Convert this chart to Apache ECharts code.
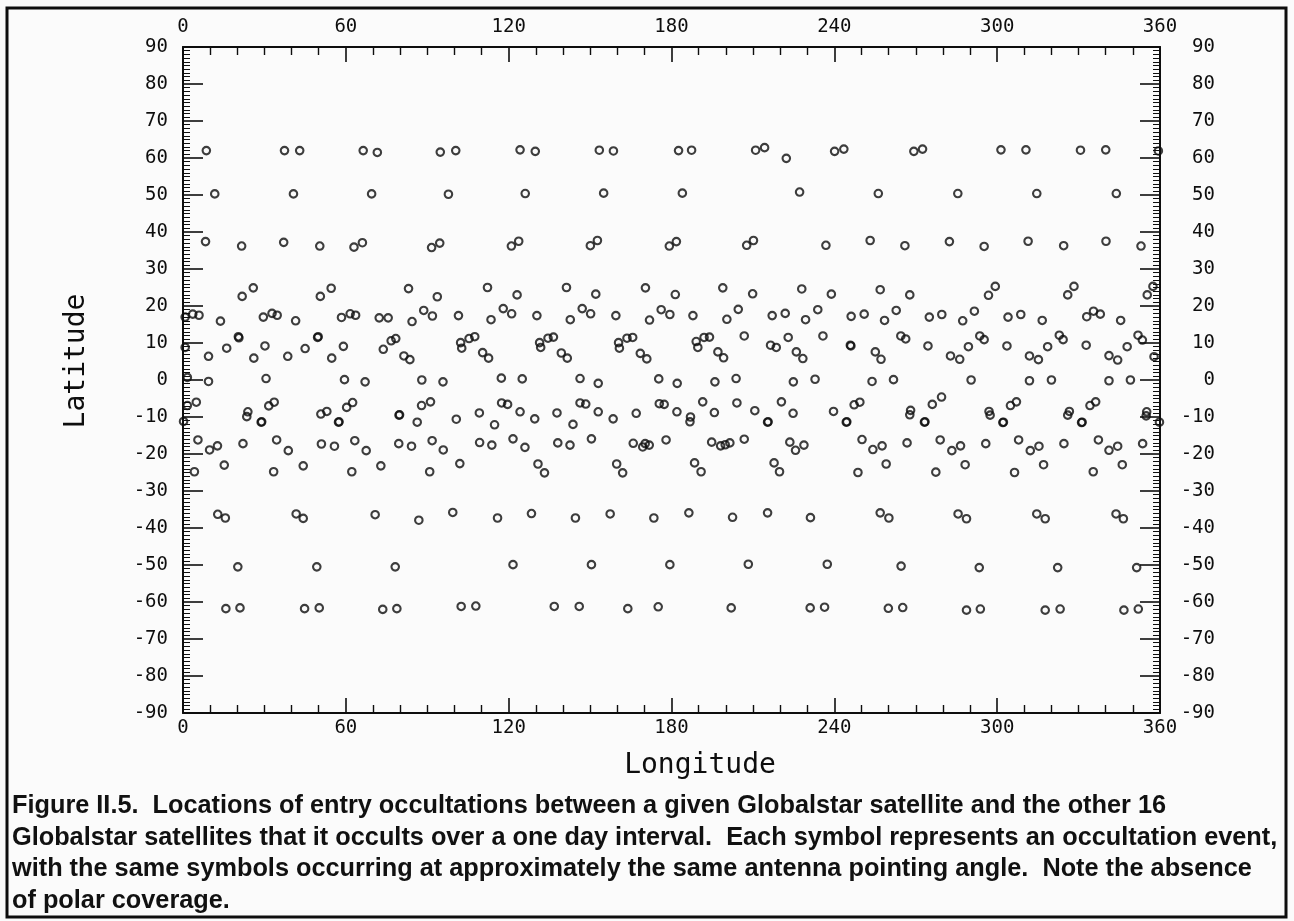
<!DOCTYPE html>
<html>
<head>
<meta charset="utf-8">
<title>Figure II.5</title>
<script src="https://cdn.jsdelivr.net/npm/echarts/dist/echarts.min.js"></script>
<style>
  html, body { margin: 0; padding: 0; background: #fbfbfb; }
  #chart { width: 1294px; height: 921px; }
</style>
</head>
<body>
<div id="chart"></div>
<script>
// occultation events, [longitude, latitude], by longitude quarter
const eventsLon0to90 = [
  [8.6, 62], [37.4, 62], [43, 62], [66.4, 62], [71.6, 61.5],
  [11.7, 50.3], [40.7, 50.3], [69.5, 50.3],
  [8.3, 37.4], [21.6, 36.2], [37.1, 37.2], [50.4, 36.2], [63, 35.9], [66.1, 37.1],
  [21.8, 22.6], [25.9, 24.9], [50.6, 22.6], [54.6, 24.8], [83.1, 24.7],
  [0.8, 17], [3.6, 17.8], [5.9, 17.5], [13.8, 15.9], [29.6, 17], [32.8, 18], [34.7, 17.5],
  [41.5, 16], [58.4, 16.9], [61.6, 17.9], [63.6, 17.5], [72.3, 16.8], [75.6, 16.8],
  [84.4, 15.8], [88.7, 18.8],
  [20.4, 11.7], [20.6, 11.4], [49.6, 11.5], [49.8, 11.7],
  [0.8, 8.8], [9.4, 6.4], [16.1, 8.6], [26.1, 5.9], [30.2, 9.2], [38.6, 6.4], [45, 8.5],
  [54.8, 5.9], [59.1, 9.1], [73.8, 8.3], [76.7, 10.6], [78.4, 11.2], [81.4, 6.5], [83.6, 5.5],
  [1.6, 0.7], [9.4, -0.4], [30.6, 0.4], [59.5, 0.1], [67.1, -0.5], [88, 0],
  [1.6, -6.9], [4.9, -6], [0.2, -11.2], [23.9, -8.6], [23.5, -9.9], [28.8, -11.4], [29, -11.3],
  [31.6, -7], [33.6, -6], [50.8, -9.2], [53, -8.5], [57.3, -11.4], [57.5, -11.3], [60.3, -7.4],
  [62.5, -6.1], [79.6, -9.5], [79.8, -9.4], [86.3, -11.4], [87.9, -6.9],
  [5.5, -16.2], [9.8, -18.9], [12.7, -17.8], [22.1, -17.2], [34.5, -16.2], [38.8, -19.1],
  [51, -17.3], [55.8, -17.9], [63.3, -16.4], [67.5, -19.1], [79.5, -17.2], [84.2, -17.9],
  [4.2, -24.8], [15.2, -23], [33.4, -24.8], [44.3, -23.2], [62.2, -24.8], [72.9, -23.2],
  [12.8, -36.3], [15.6, -37.3], [41.7, -36.2], [44.3, -37.4], [70.8, -36.4], [86.9, -37.9],
  [20.2, -50.5], [49.3, -50.5], [78.2, -50.5],
  [15.8, -61.8], [21, -61.6], [44.8, -61.8], [50.2, -61.6], [73.6, -62], [78.8, -61.8]
]

const eventsLon90to180 = [
  [94.8, 61.6], [100.5, 62], [124.2, 62.2], [129.8, 61.8], [153.4, 62.1], [158.6, 61.9],
  [97.8, 50.2], [126.1, 50.4], [155, 50.5],
  [91.6, 35.8], [94.6, 37], [121, 36.2], [123.7, 37.5], [150.1, 36.3], [152.7, 37.7], [179.2, 36.2],
  [93.7, 22.5], [112.2, 25], [123.1, 23], [141.3, 25], [152.1, 23.2], [170.4, 24.9],
  [91.9, 17.3], [101.5, 17.4], [113.5, 16.3], [118, 19.3], [121.1, 17.9], [130.4, 17.4],
  [142.7, 16.3], [147.1, 19.3], [150.2, 17.9], [159.5, 17.4], [171.9, 16.2], [176.2, 19], [179.4, 17.7],
  [102.3, 10.1], [102.7, 8.6], [105.4, 11.2], [107.5, 11.7], [110.4, 7.4], [112.6, 5.9],
  [131.4, 10.1], [131.8, 8.8], [134.5, 11.3], [136.5, 11.6], [139.4, 7.3], [141.6, 5.9],
  [160.5, 10.1], [160.8, 8.6], [163.6, 11.3], [165.7, 11.5], [168.5, 7.2], [170.9, 5.7],
  [95.8, -0.5], [117.3, 0.5], [125, 0.3], [146.3, 0.4], [153, -0.9], [175.3, 0.3],
  [91.2, -5.9], [100.7, -10.6], [109.2, -8.9], [114.8, -12.1], [117.4, -6.2], [119.6, -6.6],
  [124.2, -8.6], [129.6, -10.5], [137.8, -8.9], [143.7, -12], [146.3, -6.2], [148.4, -6.5],
  [153, -8.6], [158.5, -10.5], [167, -9], [175.5, -6.4], [177.3, -6.6],
  [91.8, -16.4], [95.9, -18.9], [109.3, -16.9], [113.8, -17.6], [121.6, -15.9], [126, -18.2],
  [138.1, -17], [142.6, -17.6], [150.5, -15.9], [165.9, -17.1], [169.4, -18.1], [170.3, -17.2],
  [171.8, -17.6], [178, -16.2],
  [90.9, -24.8], [102, -22.6], [130.8, -22.7], [133.2, -25.1], [159.8, -22.7], [162, -25.1],
  [99.4, -35.8], [115.9, -37.3], [128.4, -36.1], [144.6, -37.3], [157.4, -36.2], [173.5, -37.3],
  [121.6, -49.9], [150.5, -49.9], [179.4, -49.9],
  [102.5, -61.2], [107.9, -61.1], [136.8, -61.2], [146, -61.2], [163.9, -61.8], [175.1, -61.3]
]

const eventsLon180to270 = [
  [182.6, 62], [187.4, 62.1], [211, 62.1], [214.3, 62.8], [222.3, 59.9], [240.1, 61.8],
  [243.5, 62.4], [269.3, 61.8],
  [184, 50.5], [227.2, 50.8], [256.2, 50.4],
  [181.8, 37.4], [207.7, 36.4], [210.2, 37.7], [236.9, 36.4], [253.2, 37.7], [266, 36.3],
  [181.4, 23.1], [198.9, 24.9], [209.9, 23.3], [228, 24.6], [238.9, 23.2], [256.9, 24.4], [267.8, 23],
  [187.9, 17.4], [200.4, 16.4], [204.6, 19.1], [217.1, 17.4], [221.9, 18], [229.4, 16.3],
  [233.9, 19], [246.2, 17.2], [251, 17.8], [258.5, 16.1], [262.8, 18.8],
  [189.1, 10.4], [189.7, 8.8], [192, 11.5], [194, 11.6], [197.1, 7.6], [199.2, 6], [206.8, 11.9],
  [216.5, 9.4], [218.6, 8.8], [223, 11.5], [226, 7.6], [228.4, 5.8], [235.8, 11.9], [245.9, 9.4],
  [246.1, 9.2], [255.1, 7.6], [257.2, 5.6], [264.5, 11.9], [266.3, 11.1],
  [182.1, -0.9], [196, -0.5], [203.8, 0.4], [224.9, -0.5], [232.9, 0.2], [253.9, -0.4], [261.8, 0.1],
  [182, -8.6], [187, -10], [186.8, -11.3], [191.5, -5.9], [195.8, -8.8], [204.1, -6.2],
  [210.7, -8.3], [215.4, -11.4], [215.6, -11.3], [220.5, -5.9], [224.8, -9], [239.7, -8.5],
  [244.4, -11.4], [244.6, -11.3], [247.3, -6.7], [249.4, -6], [268.1, -8.2], [267.8, -9.4],
  [194.8, -16.8], [198.1, -17.8], [199.8, -17.5], [201.5, -17], [206.8, -16], [223.6, -16.8],
  [225.7, -19], [228.8, -17.6], [250.2, -16.1], [254.2, -18.8], [257.6, -17.8], [266.8, -17],
  [188.5, -22.4], [190.9, -24.8], [217.8, -22.4], [219.8, -24.8], [248.7, -25], [259.1, -22.7],
  [186.4, -35.9], [202.5, -37.1], [215.4, -35.9], [231.2, -37.2], [256.9, -35.9], [260.1, -37.3],
  [208.3, -49.8], [237.4, -49.8], [264.6, -50.3],
  [202, -61.6], [231.1, -61.6], [236.4, -61.4], [259.9, -61.7], [265.2, -61.5]
]

const eventsLon270to360 = [
  [272.5, 62.4], [301.4, 62.2], [310.6, 62.2], [330.7, 62.1], [340, 62.2], [359.4, 61.9],
  [285.5, 50.4], [314.6, 50.4], [343.9, 50.4],
  [282.4, 37.4], [295.2, 36.1], [311.4, 37.5], [324.5, 36.3], [340.1, 37.5], [353, 36.2],
  [296.8, 22.9], [299.3, 25.3], [326, 23], [328.3, 25.3], [355.3, 23], [357.4, 25.3],
  [275, 17], [279.6, 17.7], [287.3, 16], [291.6, 18.6], [304, 17], [308.7, 17.7], [316.6, 16.1],
  [333, 17.1], [335.5, 18.6], [338, 17.8], [345.5, 16.1],
  [351.9, 12.1], [353.5, 10.8],
  [274.5, 9.2], [282.8, 6.5], [286.2, 5.6], [289.4, 9], [293.6, 11.9], [295.2, 10.9], [303.6, 9.2],
  [311.9, 6.5], [315.2, 5.5], [318.6, 9], [322.9, 12.1], [324.3, 10.9], [332.8, 9.4], [341.2, 6.6],
  [344.4, 5.4], [347.9, 9], [357.8, 6.3],
  [290.4, 0], [311.9, -0.2], [320, 0], [341.2, -0.2], [349.1, 0],
  [273.2, -11.4], [273.4, -11.3], [276.1, -6.6], [279.5, -4.6], [297, -8.5], [297.4, -9.5],
  [302.1, -11.5], [302.3, -11.4], [304.9, -6.9], [307.1, -5.9], [326, -9.5], [326.6, -8.5],
  [331.1, -11.5], [331.3, -11.4], [334.2, -6.9], [336.3, -5.9], [355.1, -8.6], [354.9, -9.7], [359.8, -11.4],
  [279, -16.2], [283.3, -19.1], [286.5, -17.8], [295.8, -17.2], [307.9, -16.2], [312.2, -19.1],
  [315.4, -17.9], [324.6, -17.2], [337.3, -16.2], [341.2, -19], [344.4, -17.9], [353.6, -17.2],
  [277.4, -24.9], [288.2, -22.9], [306.4, -25], [317.1, -22.9], [335.4, -24.8], [346.1, -22.9],
  [285.6, -36.2], [288.7, -37.5], [314.6, -36.2], [317.7, -37.5], [343.8, -36.2], [346.5, -37.5],
  [293.4, -50.7], [322.3, -50.7], [351.4, -50.7],
  [288.7, -62.2], [293.8, -61.9], [317.7, -62.2], [323.2, -61.9], [346.7, -62.2], [352, -61.9]
]

const lonRange = [0, 360, 60]
const latRange = [-90, 90, 10]

const captionLines = [
  'Figure II.5.  Locations of entry occultations between a given Globalstar satellite and the other 16',
  'Globalstar satellites that it occults over a one day interval.  Each symbol represents an occultation event,',
  'with the same symbols occurring at approximately the same antenna pointing angle.  Note the absence',
  'of polar coverage.'
]

const ink = '#0e0e0e'
const plotterFont = '"DejaVu Sans Mono", monospace'

function lonAxis(position, margin) {
  return {
    type: 'value',
    position: position,
    min: lonRange[0],
    max: lonRange[1],
    interval: lonRange[2],
    axisLine: { show: true, onZero: false, lineStyle: { color: ink, width: 2 } },
    axisTick: { show: true, inside: true, length: 15, lineStyle: { color: ink, width: 1.6 } },
    minorTick: { show: true, splitNumber: 6, length: 8, lineStyle: { color: ink, width: 1.4 } },
    axisLabel: { margin: margin, color: ink, fontFamily: plotterFont, fontSize: 19 },
    splitLine: { show: false }
  }
}

function latAxis(position, extraLabel) {
  return {
    type: 'value',
    position: position,
    min: latRange[0],
    max: latRange[1],
    interval: latRange[2],
    axisLine: { show: true, onZero: false, lineStyle: { color: ink, width: 2 } },
    axisTick: { show: true, inside: true, length: 20, lineStyle: { color: ink, width: 1.6 } },
    minorTick: { show: true, splitNumber: 10, length: 7, lineStyle: { color: ink, width: 1 } },
    axisLabel: Object.assign({ color: ink, fontFamily: plotterFont, fontSize: 19 }, extraLabel),
    splitLine: { show: false }
  }
}

const chart = echarts.init(document.getElementById('chart'))

const caption = captionLines.map(function (line, i) {
  return {
    type: 'text',
    x: 12,
    y: 806 + i * 31.7,
    style: {
      text: line,
      fill: '#111',
      font: 'bold 25.3px "Liberation Sans", Arial, sans-serif',
      textVerticalAlign: 'middle'
    }
  }
})

chart.setOption({
  animation: false,
  backgroundColor: '#fbfbfb',
  grid: { left: 183, right: 134, top: 47, bottom: 208 },
  xAxis: [lonAxis('bottom', 6), lonAxis('top', 10)],
  yAxis: [
    latAxis('left', { margin: 15 }),
    latAxis('right', { margin: 55, align: 'right' })
  ],
  series: [
    {
      type: 'scatter',
      xAxisIndex: 0,
      yAxisIndex: 0,
      clip: false,
      symbol: 'circle',
      symbolSize: 7.5,
      itemStyle: { color: 'rgba(0,0,0,0)', borderColor: ink, borderWidth: 2.1 },
      emphasis: { disabled: true },
      data: eventsLon0to90.concat(eventsLon90to180, eventsLon180to270, eventsLon270to360)
    }
  ],
  graphic: [
    {
      type: 'rect',
      shape: { x: 7, y: 8, width: 1279, height: 909 },
      style: { fill: 'none', stroke: ink, lineWidth: 3 }
    },
    {
      type: 'text',
      x: 77,
      y: 361,
      rotation: Math.PI / 2,
      style: { text: 'Latitude', fill: ink, font: '28px ' + plotterFont, textAlign: 'center', textVerticalAlign: 'middle' }
    },
    {
      type: 'text',
      x: 700,
      y: 766,
      style: { text: 'Longitude', fill: ink, font: '28px ' + plotterFont, textAlign: 'center', textVerticalAlign: 'middle' }
    }
  ].concat(caption)
})
</script>
</body>
</html>
